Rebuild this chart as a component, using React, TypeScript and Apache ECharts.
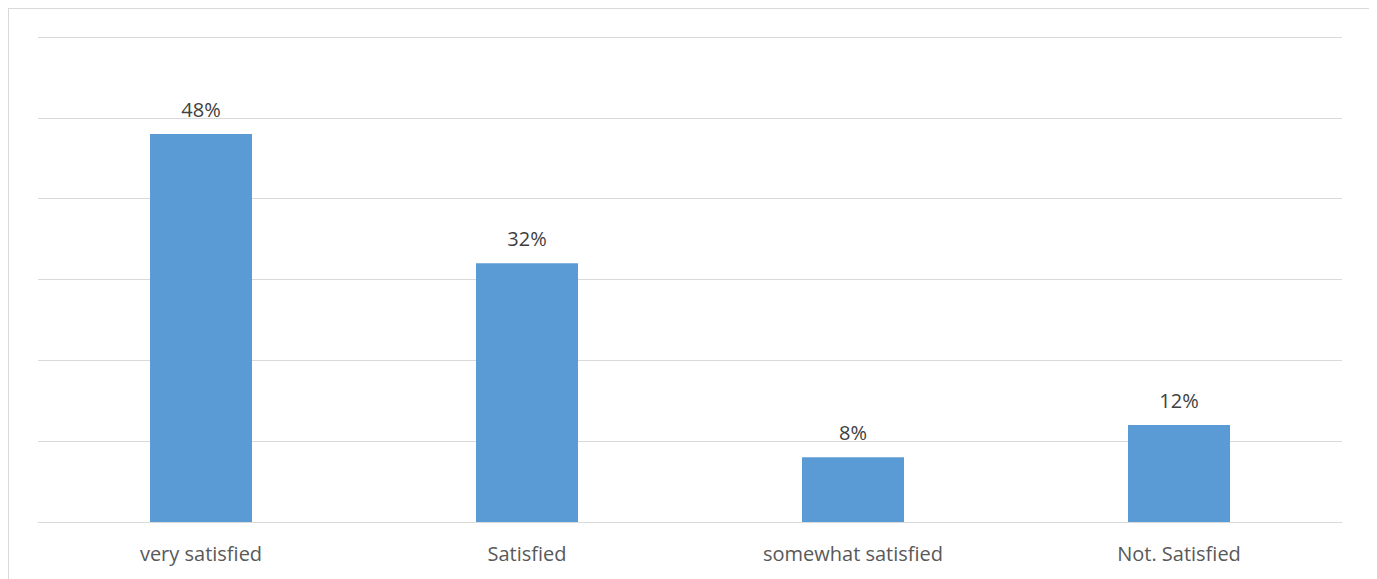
import React, { useEffect, useRef } from "react";
import * as echarts from "echarts";

const categories = ["very satisfied", "Satisfied", "somewhat satisfied", "Not. Satisfied"];
const values = [48, 32, 8, 12];
const yTicks = [0, 10, 20, 30, 40, 50, 60];

export default function App() {
  const ref = useRef<HTMLDivElement>(null);
  useEffect(() => {
    if (!ref.current) return;
    const chart = echarts.init(ref.current, undefined, { renderer: "svg" });
    chart.setOption({
      animation: false,
      backgroundColor: "#ffffff",
      grid: { left: 29, right: 27, top: 28, bottom: 65, containLabel: false },
      xAxis: {
        type: "category",
        data: categories,
        axisLine: { lineStyle: { color: "#d9d9d9", width: 1 } },
        axisTick: { show: false },
        axisLabel: { color: "#595959", fontFamily: "Open Sans", fontSize: 20, margin: 21 },
      },
      yAxis: {
        type: "value",
        min: yTicks[0],
        max: yTicks[yTicks.length - 1],
        interval: 10,
        axisLabel: { show: false },
        axisLine: { show: false },
        axisTick: { show: false },
        splitLine: { lineStyle: { color: "#d9d9d9", width: 1 } },
      },
      series: [
        {
          type: "bar",
          data: values,
          barWidth: 102,
          itemStyle: { color: "#5b9bd5" },
          label: {
            show: true,
            position: "top",
            distance: 15,
            formatter: "{c}%",
            color: "#404040",
            fontFamily: "Open Sans",
            fontSize: 20,
          },
        },
      ],
    });
    return () => chart.dispose();
  }, []);
  return (
    <div
      style={{
        width: 1362,
        height: 580,
        border: "1px solid #d9d9d9",
        boxSizing: "border-box",
      }}
    >
      <div ref={ref} style={{ width: 1360, height: 578 }} />
    </div>
  );
}
